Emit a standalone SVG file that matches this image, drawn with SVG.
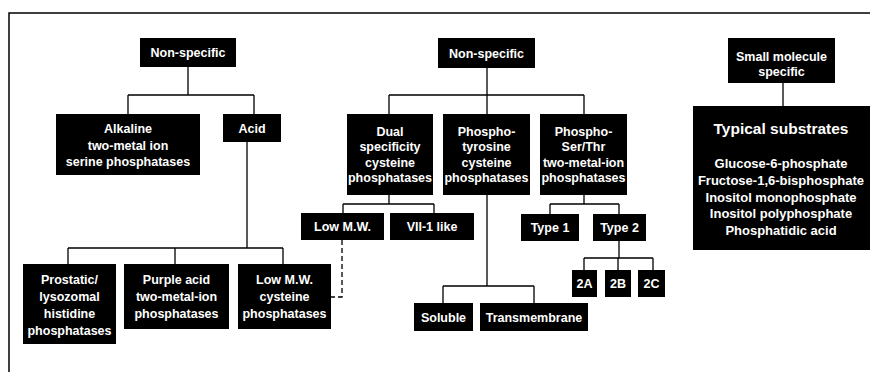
<svg xmlns="http://www.w3.org/2000/svg" width="870" height="372" viewBox="0 0 870 372">
<style>
.box{fill:#000}
.t{fill:#fff;font-family:"Liberation Sans",Arial,sans-serif;font-weight:bold;font-size:12.5px;text-anchor:middle}
.big{font-size:15.5px}
.sub{font-size:13px}
.ln{stroke:#000;stroke-width:1.3;fill:none}
.dash{stroke-dasharray:5,3}
.frame{stroke:#000;stroke-width:1.5;fill:none}
</style>
<rect width="870" height="372" fill="#fff"/>
<path class="frame" d="M9,372 V13 H870"/>
<g id="connectors">
<path class="ln" d="M188,67 V95 M128,95 H254 M128,95 V114 M254,95 V114"/>
<path class="ln" d="M247,142 V248 M68,248 H283 M68,248 V264 M175,248 V264 M283,248 V264"/>
<path class="ln" d="M487,68 V95 M389,95 H584 M389,95 V114 M487,95 V114 M584,95 V114"/>
<path class="ln" d="M389,195 V204 M343,204 H434 M343,204 V213 M434,204 V213"/>
<path class="ln dash" d="M342,240 V297 H331"/>
<path class="ln" d="M487,195 V286 M443,286 H534 M443,286 V303 M534,286 V303"/>
<path class="ln" d="M584,195 V204 M550,204 H619 M550,204 V214 M619,204 V214"/>
<path class="ln" d="M619,241 V258 M584,258 H653 M584,258 V270 M618,258 V270 M653,258 V270"/>
<path class="ln" d="M783,83 V106"/>
</g>
<g id="ns1"><rect class="box" x="140" y="38" width="96" height="29"/><text class="t" x="188" y="57">Non-specific</text></g>
<g id="alkaline"><rect class="box" x="56" y="114" width="144" height="61"/><text class="t" x="128" y="133">Alkaline</text><text class="t" x="128" y="149.5">two-metal ion</text><text class="t" x="128" y="166">serine phosphatases</text></g>
<g id="acid"><rect class="box" x="223" y="114" width="58" height="28"/><text class="t" x="252" y="132.5">Acid</text></g>
<g id="prostatic"><rect class="box" x="23" y="264" width="93" height="80"/><text class="t" x="69.5" y="283.5">Prostatic/</text><text class="t" x="69.5" y="300.5">lysozomal</text><text class="t" x="69.5" y="317.5">histidine</text><text class="t" x="69.5" y="334.5">phosphatases</text></g>
<g id="purple"><rect class="box" x="124" y="264" width="105" height="65"/><text class="t" x="176.5" y="283.5">Purple acid</text><text class="t" x="176.5" y="300.5">two-metal-ion</text><text class="t" x="176.5" y="317.5">phosphatases</text></g>
<g id="lmwcys"><rect class="box" x="238" y="264" width="93" height="65"/><text class="t" x="284.5" y="283.5">Low M.W.</text><text class="t" x="284.5" y="300.5">cysteine</text><text class="t" x="284.5" y="317.5">phosphatases</text></g>
<g id="ns2"><rect class="box" x="438" y="38" width="97" height="30"/><text class="t" x="486.5" y="57.5">Non-specific</text></g>
<g id="dual"><rect class="box" x="347" y="114" width="86" height="81"/><text class="t" x="390" y="135.5">Dual</text><text class="t" x="390" y="151">specificity</text><text class="t" x="390" y="166.5">cysteine</text><text class="t" x="390" y="182">phosphatases</text></g>
<g id="ptyr"><rect class="box" x="443" y="114" width="87" height="81"/><text class="t" x="486.5" y="135.5">Phospho-</text><text class="t" x="486.5" y="151">tyrosine</text><text class="t" x="486.5" y="166.5">cysteine</text><text class="t" x="486.5" y="182">phosphatases</text></g>
<g id="pserthr"><rect class="box" x="540" y="114" width="87" height="81"/><text class="t" x="583.5" y="135.5">Phospho-</text><text class="t" x="583.5" y="151">Ser/Thr</text><text class="t" x="583.5" y="166.5">two-metal-ion</text><text class="t" x="583.5" y="182">phosphatases</text></g>
<g id="lowmw"><rect class="box" x="301" y="213" width="83" height="27"/><text class="t" x="342.5" y="231">Low M.W.</text></g>
<g id="vii1"><rect class="box" x="390" y="213" width="84" height="27"/><text class="t" x="432" y="231">VII-1 like</text></g>
<g id="soluble"><rect class="box" x="414" y="303" width="59" height="28"/><text class="t" x="443.5" y="321.5">Soluble</text></g>
<g id="transmembrane"><rect class="box" x="480" y="303" width="108" height="28"/><text class="t" x="534" y="321.5">Transmembrane</text></g>
<g id="type1"><rect class="box" x="521" y="214" width="58" height="27"/><text class="t" x="550" y="232">Type 1</text></g>
<g id="type2"><rect class="box" x="593" y="214" width="53" height="27"/><text class="t" x="619.5" y="232">Type 2</text></g>
<g id="t2a"><rect class="box" x="572" y="270" width="25" height="27"/><text class="t" x="584.5" y="288">2A</text></g>
<g id="t2b"><rect class="box" x="605" y="270" width="26" height="27"/><text class="t" x="618" y="288">2B</text></g>
<g id="t2c"><rect class="box" x="638" y="270" width="27" height="27"/><text class="t" x="651.5" y="288">2C</text></g>
<g id="smallmol"><rect class="box" x="728" y="38" width="107" height="45"/><text class="t" x="781.5" y="60.5">Small molecule</text><text class="t" x="781.5" y="75.5">specific</text></g>
<g id="substrates"><rect class="box" x="693" y="106" width="177" height="144"/><text class="t big" x="781" y="133.5">Typical substrates</text><text class="t sub" x="781" y="167.5">Glucose-6-phosphate</text><text class="t sub" x="781" y="184.5">Fructose-1,6-bisphosphate</text><text class="t sub" x="781" y="201.5">Inositol monophosphate</text><text class="t sub" x="781" y="218">Inositol polyphosphate</text><text class="t sub" x="781" y="234.5">Phosphatidic acid</text></g>
</svg>
